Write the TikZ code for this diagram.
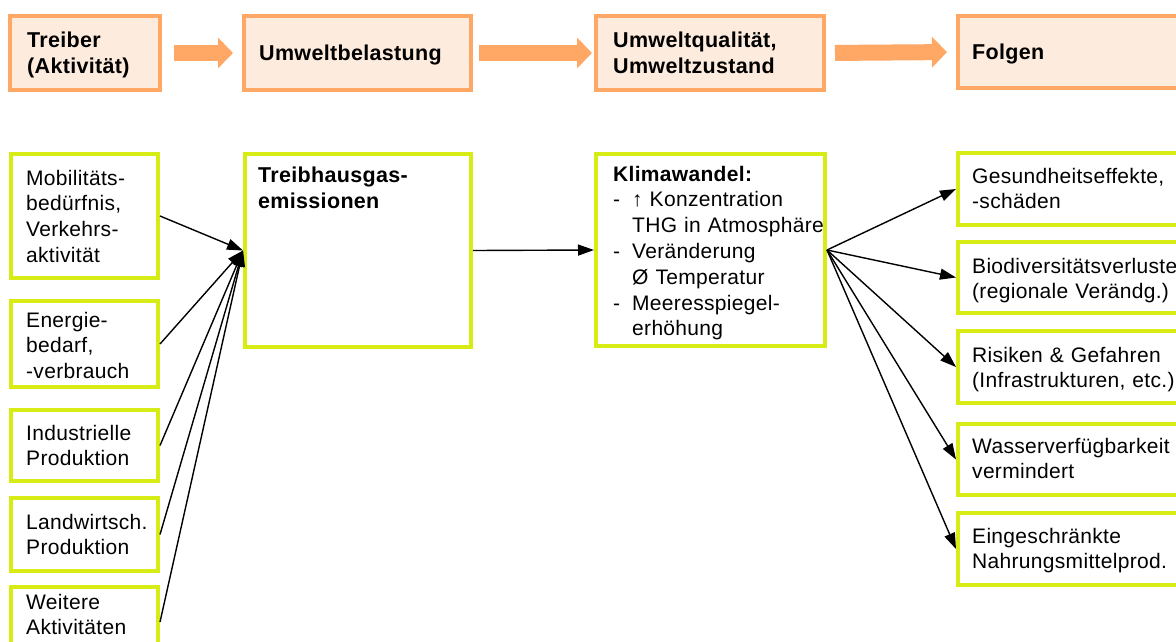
\documentclass[tikz,border=0pt]{standalone}
\usepackage{fontspec}
\setmainfont{Liberation Sans}[LetterSpace=1.5]
\usetikzlibrary{arrows.meta}
\definecolor{hdrline}{RGB}{255,168,102}
\definecolor{hdrfill}{RGB}{253,235,221}
\definecolor{lime}{RGB}{214,236,20}
\begin{document}
\begin{tikzpicture}[x=1pt,y=-1pt,
  hbox/.style={draw=hdrline, fill=hdrfill, line width=4pt, rectangle, inner sep=0pt, anchor=north west},
  gbox/.style={draw=lime, fill=white, line width=4pt, rectangle, inner sep=0pt, anchor=north west},
  txt/.style={anchor=base west, inner sep=0pt, text width=300pt, align=left, font=\fontsize{21}{25.8}\selectfont},
  htxt/.style={anchor=base west, inner sep=0pt, text width=300pt, align=left, font=\bfseries\fontsize{21.5}{26}\selectfont},
  harrow/.style={draw=hdrline, line width=16pt, -{Triangle[length=15pt,width=30pt]}},
  conn/.style={draw=black, line width=1.4pt, -{Triangle[length=16pt,width=11pt]}}]
\useasboundingbox (0,0) rectangle (1176,641);
\clip (0,0) rectangle (1176,641);
% header row
\node[hbox, minimum width=150pt, minimum height=74pt] (h1) at (8,14) {};
\node[hbox, minimum width=227pt, minimum height=74pt] (h2) at (242,14) {};
\node[hbox, minimum width=228pt, minimum height=74pt] (h3) at (594,14) {};
\node[hbox, minimum width=260pt, minimum height=72pt] (h4) at (956,14) {};
\node[htxt] (h1t) at ([shift={(19,33)}]h1.north west) {Treiber\\(Aktivität)};
\node[htxt] (h2t) at ([shift={(17,46)}]h2.north west) {Umweltbelastung};
\node[htxt] (h3t) at ([shift={(19,33)}]h3.north west) {Umweltqualität,\\Umweltzustand};
\node[htxt] (h4t) at ([shift={(16,45)}]h4.north west) {Folgen};
\draw[harrow, shorten <=12pt, shorten >=9pt] (h1.east) -- (h2.west);
\draw[harrow, shorten <=6pt, shorten >=2pt] (h2.east) -- (h3.west);
\draw[harrow, shorten <=9pt, shorten >=9pt] (h3.east) -- (h4.west);
% left column
\node[gbox, minimum width=147pt, minimum height=124pt] (l1) at (9,152) {};
\node[gbox, minimum width=147pt, minimum height=86pt] (l2) at (9,299) {};
\node[gbox, minimum width=147pt, minimum height=71pt] (l3) at (9,408) {};
\node[gbox, minimum width=147pt, minimum height=73pt] (l4) at (9,496) {};
\node[gbox, minimum width=147pt, minimum height=70pt] (l5) at (9,585) {};
\node[txt] (l1t) at ([shift={(17,33)}]l1.north west) {Mobilitäts-\\bedürfnis,\\Verkehrs-\\aktivität};
\node[txt] (l2t) at ([shift={(17,28)}]l2.north west) {Energie-\\bedarf,\\-verbrauch};
\node[txt] (l3t) at ([shift={(17,32)}]l3.north west) {Industrielle\\Produktion};
\node[txt] (l4t) at ([shift={(17,33)}]l4.north west) {Landwirtsch.\\Produktion};
\node[txt] (l5t) at ([shift={(17,24)}]l5.north west) {Weitere\\Aktivitäten};
% middle
\node[gbox, minimum width=226pt, minimum height=193pt] (t) at (243,152) {};
\node[htxt] (tt) at ([shift={(15,30)}]t.north west) {Treibhausgas-\\emissionen};
\node[gbox, minimum width=229pt, minimum height=192pt] (k) at (594,152) {};
\node[txt] (kt) at ([shift={(19,29)}]k.north west) {\textbf{Klimawandel:}\\
\makebox[19pt][l]{-}↑ Konzentration\\
\hspace*{19pt}THG in Atmosphäre\\
\makebox[19pt][l]{-}Veränderung\\
\hspace*{19pt}Ø Temperatur\\
\makebox[19pt][l]{-}Meeresspiegel-\\
\hspace*{19pt}erhöhung};
% right column
\node[gbox, minimum width=250pt, minimum height=72pt] (r1) at (956,151) {};
\node[gbox, minimum width=250pt, minimum height=71pt] (r2) at (956,240) {};
\node[gbox, minimum width=250pt, minimum height=72pt] (r3) at (956,329) {};
\node[gbox, minimum width=250pt, minimum height=71pt] (r4) at (956,422) {};
\node[gbox, minimum width=250pt, minimum height=72pt] (r5) at (956,511) {};
\node[txt] (r1t) at ([shift={(16,32)}]r1.north west) {Gesundheitseffekte,\\-schäden};
\node[txt] (r2t) at ([shift={(16,33)}]r2.north west) {Biodiversitätsverluste\\(regionale Verändg.)};
\node[txt] (r3t) at ([shift={(16,33)}]r3.north west) {Risiken \& Gefahren\\(Infrastrukturen, etc.)};
\node[txt] (r4t) at ([shift={(16,31)}]r4.north west) {Wasserverfügbarkeit\\vermindert};
\node[txt] (r5t) at ([shift={(16,32)}]r5.north west) {Eingeschränkte\\Nahrungsmittelprod.};
% connectors
\foreach \n in {l1,l2,l3,l4,l5} \draw[conn] (\n.east) -- (t.west);
\draw[conn] (t.east) -- (k.west);
\foreach \n in {r1,r2,r3,r4,r5} \draw[conn] (k.east) -- (\n.west);
\end{tikzpicture}
\end{document}
